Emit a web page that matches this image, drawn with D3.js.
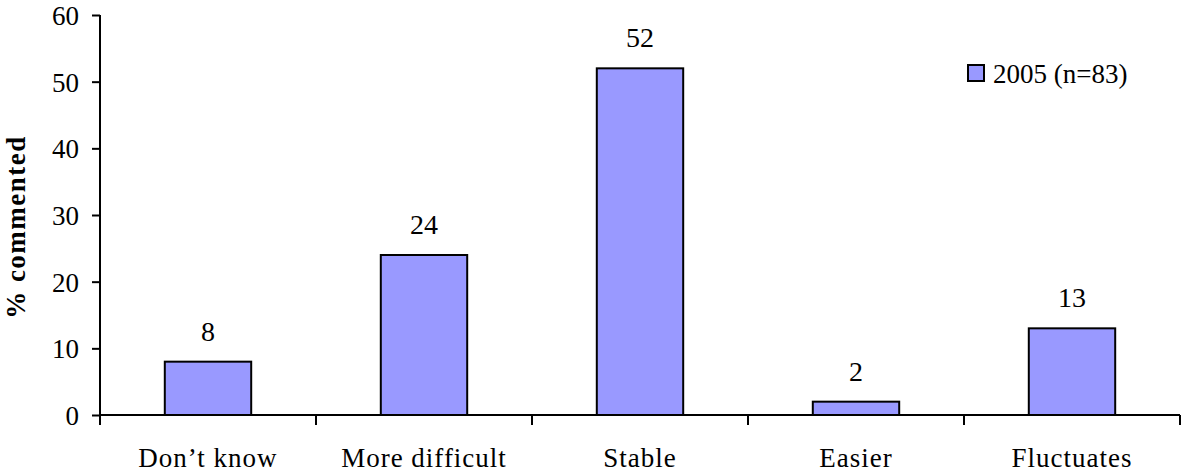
<!DOCTYPE html>
<html><head><meta charset="utf-8">
<script src="https://cdn.jsdelivr.net/npm/d3@7"></script>
<style>body{margin:0;background:#fff;} svg text{font-family:"Liberation Serif","Times New Roman",serif !important;font-size:27px;fill:#000;}</style>
</head><body>
<svg id="c" width="1182" height="475"></svg>
<script>
const categories = ["Don\u2019t know","More difficult","Stable","Easier","Fluctuates"];
const values2005 = [8,24,52,2,13];
const yTicks = [0,10,20,30,40,50,60];
const seriesName = "2005 (n=83)";

(function(){
const FS = "27px";
const svg = d3.select("#c");
const L = 100, R = 1180, T = 15, B = 415;
const x = d3.scaleBand().domain(categories).range([L,R]).paddingInner(0.6).paddingOuter(0.3);
const y = d3.scaleLinear().domain([0,60]).range([B,T]);

svg.selectAll("rect.bar").data(values2005).enter().append("rect")
  .attr("x",(d,i)=>x(categories[i])).attr("y",d=>y(d))
  .attr("width",x.bandwidth()).attr("height",d=>B-y(d))
  .attr("fill","#9999FF").attr("stroke","#000").attr("stroke-width",2);

svg.selectAll("text.val").data(values2005).enter().append("text")
  .attr("x",(d,i)=>x(categories[i])+x.bandwidth()/2).attr("y",d=>y(d)-21)
  .attr("text-anchor","middle").style("font-size","28px").text(d=>d);

const ya = svg.append("g").attr("transform",`translate(${L},0)`)
  .call(d3.axisLeft(y).tickValues(yTicks).tickSize(8).tickPadding(13));
ya.select(".domain").attr("stroke","#000").attr("stroke-width",2).attr("d",`M0,${T}V${B}`);
ya.selectAll(".tick line").attr("stroke-width",2);
ya.selectAll("text").style("font-size",FS).attr("fill","#000").attr("dy","0.35em");

svg.append("line").attr("x1",L).attr("x2",R).attr("y1",B).attr("y2",B).attr("stroke","#000").attr("stroke-width",2);
const boundaries = categories.map(c=>x(c)-x.step()*0.3).concat([R]);
svg.selectAll("line.xt").data(boundaries).enter().append("line")
  .attr("x1",d=>d).attr("x2",d=>d).attr("y1",B).attr("y2",B+10).attr("stroke","#000").attr("stroke-width",2);
svg.selectAll("text.cat").data(categories).enter().append("text")
  .attr("x",d=>x(d)+x.bandwidth()/2).attr("y",467).attr("text-anchor","middle")
  .style("font-size",FS).style("letter-spacing","1px").text(d=>d);

svg.append("text").attr("transform","translate(25,227) rotate(-90)").attr("text-anchor","middle")
  .style("font-size",FS).style("letter-spacing","1.5px").attr("font-weight","bold").text("% commented");

svg.append("rect").attr("x",968).attr("y",65).attr("width",16).attr("height",16).attr("fill","#9999FF").attr("stroke","#000").attr("stroke-width",2);
svg.append("text").attr("x",993).attr("y",83).style("font-size",FS).text(seriesName);
})();
</script>
</body></html>
